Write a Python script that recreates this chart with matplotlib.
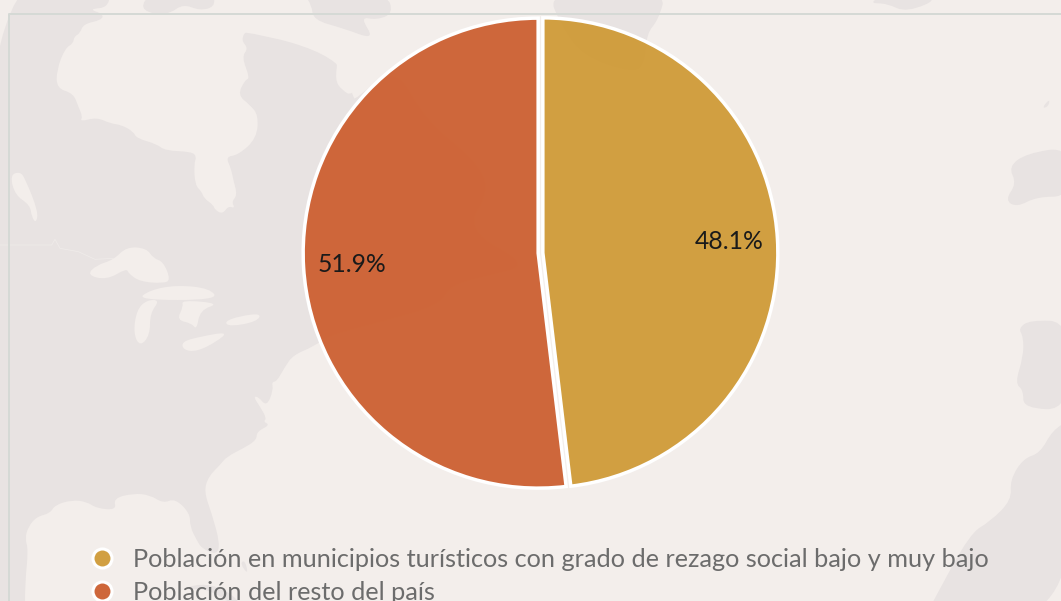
import matplotlib
matplotlib.use('Agg')
import matplotlib.pyplot as plt
from matplotlib.colors import to_rgba
from matplotlib.lines import Line2D
from matplotlib.patches import PathPatch
from matplotlib.path import Path

# chart data
labels = ['Población en municipios turísticos con grado de rezago social bajo y muy bajo',
          'Población del resto del país']
values = [48.1, 51.9]
colors = ['#CF9934', '#CC5D2D']

bg_color = '#F3EEEB'
land_color = '#E8E3E2'

W, H = 1061, 601
plt.rcParams['font.family'] = ['Lato', 'DejaVu Sans']


def z(pts, ox=0, oy=0):
    return [(x / 3 + ox, y / 3 + oy) for x, y in pts]


def blob(ax, pts, color):
    # closed outline with rounded corners
    n = len(pts)
    mid = lambda a, b: ((a[0] + b[0]) / 2, (a[1] + b[1]) / 2)
    verts = [mid(pts[0], pts[1])]
    codes = [Path.MOVETO]
    for i in range(1, n + 1):
        verts += [pts[i % n], mid(pts[i % n], pts[(i + 1) % n])]
        codes += [Path.CURVE3, Path.CURVE3]
    ax.add_patch(PathPatch(Path(verts, codes), facecolor=color, lw=0))


# background map, only decoration
america = [(-20, -20)] + z([(330, -60), (330, 22), (305, 60), (740, 88), (1015, 170), (1060, 290)]) \
    + [(355, 100), (395, 65), (425, 120), (475, 160), (490, 190), (465, 230), (530, 265), (490, 275),
       (450, 285), (440, 305), (380, 322), (330, 335)] \
    + z([(940, 140), (880, 165), (855, 200), (830, 245), (815, 245), (820, 270), (800, 320), (775, 290),
         (760, 290), (780, 320), (800, 355), (790, 365), (810, 375), (770, 395), (770, 420), (730, 445),
         (680, 470), (660, 495), (625, 530), (612, 575), (635, 640), (660, 730), (650, 765), (605, 745),
         (590, 720), (570, 680), (570, 640), (525, 595), (490, 610), (450, 585), (400, 580), (340, 595),
         (350, 630), (290, 625), (260, 605), (215, 600), (165, 615), (150, 640), (110, 650), (85, 680),
         (75, 715), (85, 750), (75, 850), (75, 960)], 0, 300) + [(-20, 640)]

# hudson bay and the lakes, painted over the land
water = [
    z([(310, 42), (305, 60), (250, 72), (240, 100), (222, 110), (220, 130), (195, 145), (170, 210), (170, 265),
       (220, 280), (235, 320), (248, 350), (240, 365), (290, 352), (330, 370), (365, 375), (400, 395), (410, 415),
       (470, 432), (495, 452), (575, 455), (590, 470), (582, 490), (585, 555), (605, 575), (612, 595), (640, 615),
       (645, 630), (668, 642), (685, 618), (705, 625), (695, 605), (712, 585), (700, 540), (693, 505), (677, 470),
       (715, 465), (770, 415), (775, 345), (750, 315), (713, 285), (735, 240), (750, 235), (725, 170), (745, 145),
       (723, 120), (740, 88), (800, 98), (870, 95), (905, 115), (945, 155), (1015, 170), (1005, 240), (1025, 270),
       (1060, 290), (1300, 100), (1000, -60), (330, -60), (330, 22), (265, 27)]),
    z([(535, 95), (550, 75), (597, 63), (585, 90), (555, 105)]),
    z([(658, 110), (670, 98), (688, 105), (672, 135), (658, 128)]),
    z([(30, 525), (60, 515), (75, 535), (115, 635), (108, 670), (95, 650), (90, 615), (45, 585)]),
    z([(260, 825), (290, 795), (340, 780), (380, 740), (440, 745), (460, 775), (490, 785), (512, 840), (490, 850),
       (420, 845), (385, 820), (380, 805), (320, 840)]),
    z([(410, 900), (450, 870), (530, 855), (630, 865), (655, 900)]),
    z([(400, 100), (410, 30), (440, 0), (480, 0), (450, 40), (450, 105), (420, 140)], 0, 300),
    z([(530, 60), (550, 20), (545, 0), (660, 10), (600, 30), (590, 90), (575, 70)], 0, 300),
    z([(545, 125), (600, 110), (685, 95), (650, 125), (590, 155), (550, 150)], 0, 300),
    z([(672, 65), (720, 48), (785, 40), (770, 65), (690, 80)], 0, 300),
    z([(875, 170), (925, 165), (900, 185)], 0, 300),
]

# islands and the other side of the ocean
land = [
    z([(420, 25), (450, -20), (640, -20), (645, 20), (600, 32), (550, 12), (510, 40), (470, 45)]),
    z([(910, -20), (1160, -20), (1180, 40), (1130, 60), (1080, 50), (1125, 120), (1030, 85), (940, 60), (935, 15)]),
    z([(50, -30), (410, -30), (385, 60), (350, 100), (345, 190), (310, 220), (160, 170), (95, 80)], 530, 0),
    z([(1020, 10), (1070, 10), (1130, 38), (1240, -10), (1050, -10)], 530, 0),
    z([(1535, 325), (1560, 295), (1555, 320)], 530, 0),
    z([(1435, 500), (1490, 460), (1620, 440), (1620, 590), (1520, 590), (1460, 622), (1425, 600), (1460, 550)], 530, 0),
    z([(1465, 85), (1500, 60), (1620, 65), (1620, 330), (1480, 325), (1480, 270), (1455, 250), (1480, 170),
       (1480, 110)], 530, 300),
    z([(1620, 360), (1568, 390), (1530, 460), (1480, 475), (1440, 540), (1445, 600), (1380, 665), (1320, 700),
       (1210, 903), (1180, 960), (1620, 960)], 530, 300),
    z([(720, 790), (735, 780), (745, 825)], 0, 300),
    z([(540, 270), (600, 250), (670, 265), (725, 310), (690, 310), (640, 275), (590, 265)], 0, 500),
]
border = z([(0, 735), (155, 735), (165, 718), (180, 745), (235, 755), (285, 778), (340, 775)])

fig = plt.figure(figsize=(W / 100, H / 100), dpi=100, facecolor=bg_color)

bg = fig.add_axes([0, 0, 1, 1])
bg.set_xlim(0, W)
bg.set_ylim(H, 0)
bg.axis('off')
blob(bg, america, land_color)
for p in water:
    blob(bg, p, bg_color)
for p in land:
    blob(bg, p, land_color)
bg.plot(*zip(*border), color='#EFEBE9', lw=0.6)
bg.plot([9, 9, W], [H, 14, 14], color='#D5D9D5', lw=1.44)

# pie, radius 1 = 235 px around (540.5, 253)
R, cx, cy = 235, 540.5, 253
half = 1.25 * R
ax = fig.add_axes([(cx - half) / W, (H - cy - half) / H, 2 * half / W, 2 * half / H])
wedges, _, pct = ax.pie(values, colors=colors, startangle=90, counterclock=False, autopct='%.1f%%',
                        pctdistance=0.795, explode=[0.01, 0.01],
                        wedgeprops={'edgecolor': 'white', 'linewidth': 2.5})
for w, c in zip(wedges, colors):
    w.set_facecolor(to_rgba(c, 0.93))
for t in pct:
    t.set_fontsize(17.8)
    t.set_color('#1a1a1a')
ax.set_xlim(-1.25, 1.25)
ax.set_ylim(-1.25, 1.25)

handles = [Line2D([], [], ls='', marker='o', ms=13.7, mfc=to_rgba(c, 0.93), mec='white', mew=2.2) for c in colors]
fig.legend(handles, labels, loc='upper left', bbox_to_anchor=(77 / W, 1 - 548 / H), frameon=False,
           fontsize=18.2, labelcolor='#6c6c6c', labelspacing=0.4, handletextpad=0.2, borderpad=0, borderaxespad=0)

plt.savefig('out.png', dpi=100, facecolor=bg_color)
